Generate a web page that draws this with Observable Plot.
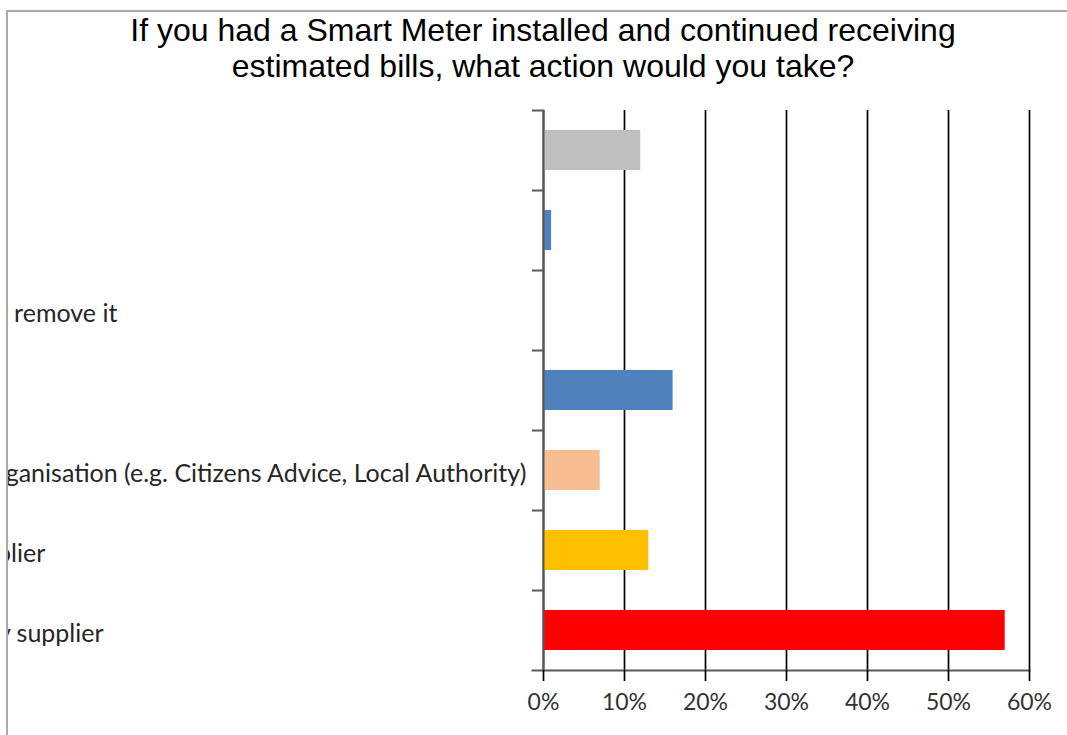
<!DOCTYPE html>
<html>
<head>
<meta charset="utf-8">
<script src="https://cdn.jsdelivr.net/npm/d3@7"></script>
<script src="https://cdn.jsdelivr.net/npm/@observablehq/plot@0.6"></script>
<style>
  html, body { margin: 0; padding: 0; background: #fff; overflow: hidden; width: 1067px; height: 735px; }
  #frame { position: absolute; left: 6px; top: 10px; width: 1100px; height: 760px;
           border-left: 2px solid #a9a9a9; border-top: 2px solid #a9a9a9; overflow: hidden; }
  #title { position: absolute; left: 0; top: 0px; width: 1070px; text-align: center;
           font-family: "Liberation Sans", Arial, sans-serif; font-size: 32px; line-height: 36px; color: #000; }
  #chart { position: absolute; left: 0; top: 83px; }
</style>
</head>
<body>
<div id="frame">
  <div id="title">If you had a Smart Meter installed and continued receiving<br>estimated bills, what action would you take?</div>
  <div id="chart"></div>
</div>
<script>
// Categories in Excel order (first = bottom bar)
const categories = [
  "Complain to my energy supplier",
  "Switch to another supplier",
  "Contact a consumer organisation (e.g. Citizens Advice, Local Authority)",
  "Do nothing",
  "Request my supplier to remove it",
  "Don't know",
  "Other"
];
const values = [57, 13, 7, 16, 0, 1, 12];
const colors = ["#FF0000", "#FFC000", "#F8BE92", "#4F81BD", "#4F81BD", "#4F81BD", "#BFBFBF"];
const xTicks = [0, 10, 20, 30, 40, 50, 60];

const data = categories.map((c, i) => ({category: c, value: values[i], color: colors[i]}));

const labelFont = 25;
const ctx = document.createElement("canvas").getContext("2d");
ctx.font = `${labelFont}px Lato`;
const wLongest = ctx.measureText(categories[2]).width;
const svgLeft = 8, mLeft = 535;
const labelEnd = 528;
const dxLabel = (labelEnd - wLongest) - (svgLeft + mLeft);

const chart = Plot.plot({
  width: 1059,
  height: 625,
  marginLeft: mLeft,
  marginRight: 38,
  marginTop: 15,
  marginBottom: 50,
  style: {fontFamily: "Lato, sans-serif", overflow: "hidden", background: "transparent"},
  x: {domain: [0, 60]},
  y: {domain: categories.slice().reverse(), paddingInner: 0.5, paddingOuter: 0.25},
  marks: [
    Plot.gridX(xTicks, {stroke: "#000", strokeOpacity: 1, strokeWidth: 1.7}),
    Plot.barX(data, {x: "value", y: "category", fill: "color"}),
    Plot.frame({anchor: "left", stroke: "#595959", strokeWidth: 2}),
    Plot.frame({anchor: "bottom", stroke: "#595959", strokeWidth: 2, insetLeft: -11}),
    Plot.axisY({tickSize: 11, dy: -40, color: "none", stroke: "#595959", strokeWidth: 2, label: null}),
    Plot.axisY({tickSize: 0, tickPadding: 0, textAnchor: "start", dx: dxLabel, dy: 3, fontSize: labelFont, color: "#262626", label: null}),
    Plot.axisX({ticks: xTicks, tickFormat: d => d + "%", tickSize: 11, tickPadding: 12, stroke: "#000", strokeWidth: 1.7, color: "#333", fontSize: 23, label: null})
  ]
});
document.getElementById("chart").appendChild(chart);
</script>
</body>
</html>
